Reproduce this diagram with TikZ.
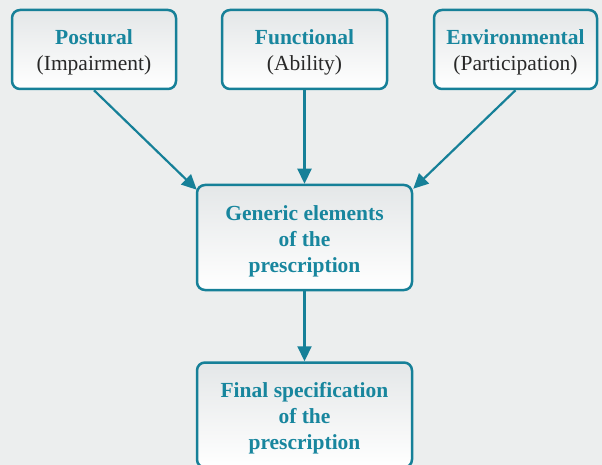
\documentclass[tikz,border=0pt]{standalone}
\usepackage{fontspec}
\setmainfont{Liberation Serif}
\usepackage{tikz}
\usetikzlibrary{arrows.meta, positioning}
\definecolor{tealline}{RGB}{22,128,152}
\definecolor{tealtext}{RGB}{24,134,158}
\definecolor{bggrey}{RGB}{236,238,238}
\definecolor{boxgrey}{RGB}{228,231,232}
\definecolor{darktext}{RGB}{40,40,40}
\tikzstyle{factor}=[rectangle, rounded corners=8pt, minimum width=164pt,
  minimum height=79pt, text centered, align=center, draw=tealline, line width=2.5pt,
  top color=boxgrey, bottom color=white, inner sep=2pt, text=darktext,
  font=\fontsize{21.5}{26}\selectfont]
\tikzstyle{stage}=[factor, minimum width=215pt, minimum height=105pt,
  text=tealtext, font=\fontsize{21.5}{26}\selectfont\bfseries]
\tikzstyle{arrow}=[-{Triangle[length=15pt, width=14pt]}, line width=2.2pt, color=tealline]
\newcommand{\head}[1]{\rule{0pt}{21pt}\textcolor{tealtext}{\textbf{#1}}}

\begin{document}
\begin{tikzpicture}
  \fill[bggrey] (0pt,0pt) rectangle (602pt,-465pt);
  \useasboundingbox (0pt,0pt) rectangle (602pt,-465pt);
  \node[factor] (post) at (94pt,-49.5pt) {\head{Postural}\\(Impairment)};
  \node[factor, minimum width=165pt] (func) at (304.5pt,-49.5pt) {\head{Functional}\\(Ability)};
  \node[factor, minimum width=163pt] (env) at (515.5pt,-49.5pt) {\head{Environmental}\\(Participation)};
  \node[stage] (gen) at (304.5pt,-237.5pt) {\rule{0pt}{22pt}Generic elements\\of the\\prescription};
  \node[stage, below=70pt of gen] (final) {\rule{0pt}{22pt}Final specification\\of the\\prescription};
  \draw[arrow] (post.south) -- ([shift={(1pt,-6pt)}]gen.north west);
  \draw[arrow] (func.south) -- (gen.north);
  \draw[arrow] (env.south) -- ([shift={(0pt,-5pt)}]gen.north east);
  \draw[arrow] (gen.south) -- (final.north);
\end{tikzpicture}
\end{document}
